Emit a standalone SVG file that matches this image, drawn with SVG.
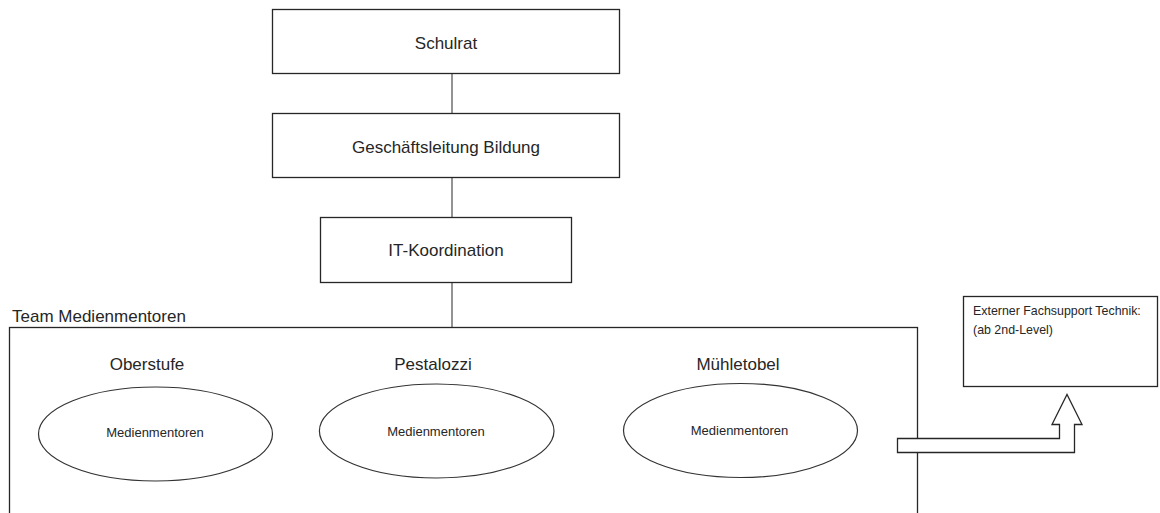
<svg xmlns="http://www.w3.org/2000/svg" width="1160" height="513" viewBox="0 0 1160 513">
<style>
.box{fill:#fff;stroke:#262626;stroke-width:1.3}
.ell{fill:#fff;stroke:#333;stroke-width:1.2}
.con{stroke:#595959;stroke-width:1.3;fill:none}
text{font-family:"Liberation Sans",Arial,sans-serif;fill:#262626}
.t17{font-size:17px}
.t13{font-size:13px}
.t12{font-size:12.4px}
.c{text-anchor:middle}
</style>
<rect width="1160" height="513" fill="#fff"/>
<g id="connectors">
<line class="con" x1="452" y1="73" x2="452" y2="113"/>
<line class="con" x1="452" y1="177" x2="452" y2="217"/>
<line class="con" x1="452" y1="282" x2="452" y2="327"/>
</g>
<g id="schulrat">
<rect class="box" x="272.5" y="9.5" width="347" height="64"/>
<text class="t17 c" x="446" y="49">Schulrat</text>
</g>
<g id="geschaeftsleitung">
<rect class="box" x="272.5" y="113.5" width="347" height="64"/>
<text class="t17 c" x="446" y="153">Geschäftsleitung Bildung</text>
</g>
<g id="it-koordination">
<rect class="box" x="320.5" y="217.5" width="251" height="65"/>
<text class="t17 c" x="446" y="256">IT-Koordination</text>
</g>
<g id="team">
<text class="t17" x="12" y="322">Team Medienmentoren</text>
<rect class="box" x="9.5" y="327.5" width="908" height="200"/>
</g>
<g id="oberstufe">
<text class="t17 c" x="147" y="370">Oberstufe</text>
<ellipse class="ell" cx="155.5" cy="434" rx="117" ry="47"/>
<text class="t13 c" x="155" y="437">Medienmentoren</text>
</g>
<g id="pestalozzi">
<text class="t17 c" x="433" y="370">Pestalozzi</text>
<ellipse class="ell" cx="436.7" cy="431" rx="117.3" ry="47"/>
<text class="t13 c" x="436" y="436">Medienmentoren</text>
</g>
<g id="muehletobel">
<text class="t17 c" x="738" y="370">Mühletobel</text>
<ellipse class="ell" cx="740.5" cy="430.5" rx="117" ry="47"/>
<text class="t13 c" x="739.5" y="435">Medienmentoren</text>
</g>
<g id="arrow">
<path class="box" d="M897.5,438.5 L1059.5,438.5 L1059.5,424.5 L1052,424.5 L1067,394.5 L1082,424.5 L1074.5,424.5 L1074.5,452.5 L897.5,452.5 Z"/>
</g>
<g id="extern">
<rect class="box" x="963.5" y="296.5" width="194" height="90"/>
<text class="t12" x="973" y="315">Externer Fachsupport Technik:</text>
<text class="t12" x="973" y="334">(ab 2nd-Level)</text>
</g>
</svg>
